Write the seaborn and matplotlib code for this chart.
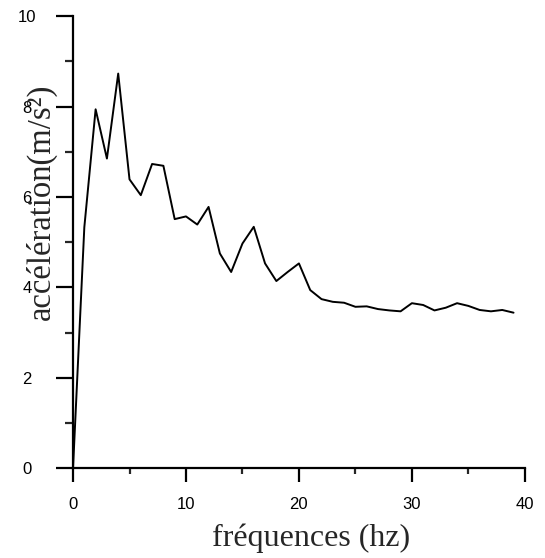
import matplotlib
matplotlib.use("Agg")
import matplotlib.pyplot as plt
from matplotlib.ticker import MultipleLocator
import seaborn as sns
import pandas as pd

freq = list(range(0, 40))
accel = [0.0, 5.33, 7.94, 6.85, 8.73, 6.39, 6.04, 6.73, 6.69, 5.51,
         5.57, 5.39, 5.78, 4.75, 4.34, 4.97, 5.34, 4.53, 4.14, 4.34,
         4.53, 3.94, 3.74, 3.68, 3.66, 3.57, 3.58, 3.52, 3.49, 3.47,
         3.65, 3.61, 3.49, 3.55, 3.65, 3.59, 3.50, 3.47, 3.50, 3.44]
xticks = [0, 10, 20, 30, 40]
yticks = [0, 2, 4, 6, 8, 10]

sns.set_style("ticks")
plt.rcParams["font.family"] = ["Liberation Sans", "DejaVu Sans"]

df = pd.DataFrame({"f": freq, "a": accel})

fig = plt.figure(figsize=(5.45, 5.58), dpi=100)
ax = fig.add_axes([0.134, 0.161, 0.829, 0.810])
sns.lineplot(data=df, x="f", y="a", ax=ax, color="black", linewidth=1.4)

ax.set_xlim(0, 40)
ax.set_ylim(0, 10)
ax.set_xticks(xticks)
ax.set_yticks(yticks)
ax.xaxis.set_minor_locator(MultipleLocator(5))
ax.yaxis.set_minor_locator(MultipleLocator(1))
sns.despine(ax=ax)
for s in ["left", "bottom"]:
    ax.spines[s].set_linewidth(1.6)
    ax.spines[s].set_color("black")
ax.tick_params(axis="x", which="major", length=10, width=1.6, pad=11,
               labelsize=12, colors="black")
ax.tick_params(axis="x", which="minor", length=4.5, width=1.6)
ax.tick_params(axis="y", which="major", length=12, width=1.6, pad=21,
               labelsize=12, colors="black")
ax.tick_params(axis="y", which="minor", length=6, width=1.6)
for lab in ax.get_yticklabels():
    lab.set_horizontalalignment("center")

ax.set_xlabel("fréquences (hz)", family=["Liberation Serif", "DejaVu Serif"],
              fontsize=23)
ax.set_ylabel("accélération(m/s²)", family=["Liberation Serif", "DejaVu Serif"],
              fontsize=23.5)
ax.xaxis.set_label_coords(0.527, -0.123)
ax.yaxis.set_label_coords(-0.035, 0.59)

fig.savefig("out.png", dpi=100, facecolor="white")
